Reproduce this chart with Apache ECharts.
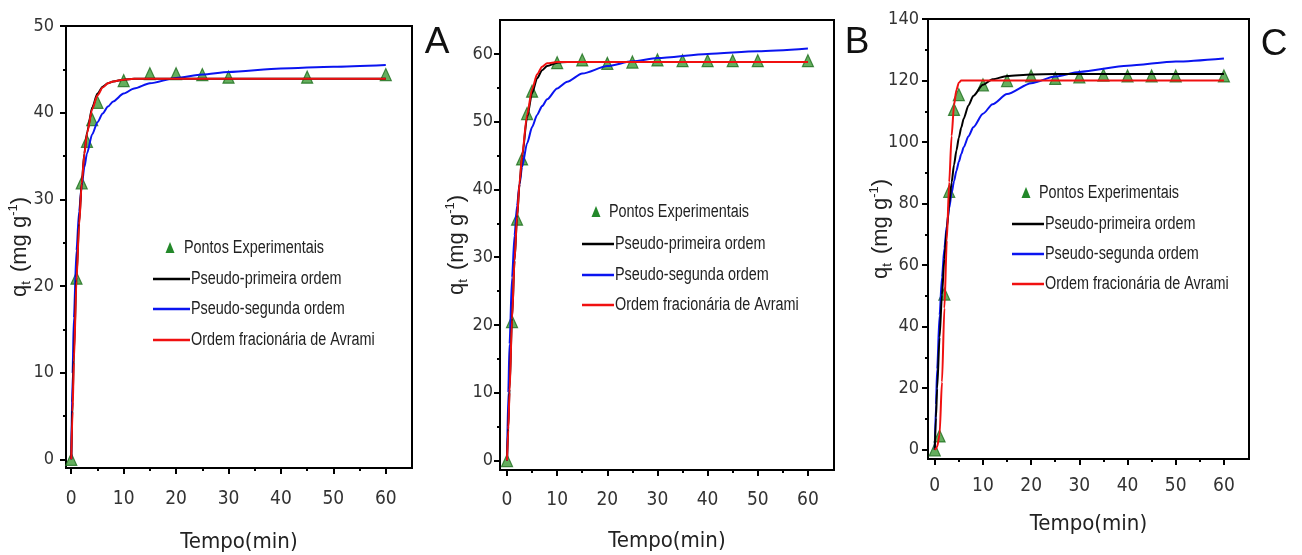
<!DOCTYPE html>
<html><head><meta charset="utf-8">
<script src="https://cdn.jsdelivr.net/npm/echarts@6/dist/echarts.min.js"></script>
<style>html,body{margin:0;padding:0;background:#fff}#c{width:1302px;height:555px}</style>
</head><body><div id="c"></div>
<script>
// ---------- DATA ----------
const seriesNames = ['Pontos Experimentais', 'Pseudo-primeira ordem', 'Pseudo-segunda ordem', 'Ordem fracionária de Avrami'];
const panelLetters = ['A', 'B', 'C'];
const xTicks = [0, 10, 20, 30, 40, 50, 60];
const xMinorTicks = [5, 15, 25, 35, 45, 55];
const yTicksA = [0, 10, 20, 30, 40, 50];
const yMinorTicksA = [5, 15, 25, 35, 45];
const yTicksB = [0, 10, 20, 30, 40, 50, 60];
const yMinorTicksB = [5, 15, 25, 35, 45, 55];
const yTicksC = [0, 20, 40, 60, 80, 100, 120, 140];
const yMinorTicksC = [10, 30, 50, 70, 90, 110, 130];

// Panel A
const tExpA = [0, 1, 2, 3, 4, 5, 10, 15, 20, 25, 30, 45, 60];
const qExpA = [0, 20.9, 31.9, 36.7, 39.2, 41.2, 43.7, 44.5, 44.5, 44.4, 44.1, 44.1, 44.4];
const tFitA = [0, 0.25, 0.5, 1, 1.5, 2, 2.5, 3, 4, 5, 6, 7, 8, 10, 12, 15, 20, 25, 30, 40, 50, 60];
const pfoA = [0, 6.6, 12.2, 21.0, 27.3, 31.9, 35.3, 37.7, 40.6, 42.2, 43.0, 43.4, 43.6, 43.8, 43.9, 43.9, 43.9, 43.9, 43.9, 43.9, 43.9, 43.9];
const psoA = [0, 9.9, 16.3, 24.1, 28.6, 31.6, 33.7, 35.3, 37.5, 38.9, 39.9, 40.7, 41.3, 42.2, 42.8, 43.4, 44.0, 44.4, 44.7, 45.1, 45.3, 45.5];
const avrA = [0, 5.5, 11.2, 20.6, 27.0, 31.8, 35.2, 37.6, 40.4, 42.0, 42.9, 43.4, 43.6, 43.8, 43.9, 43.9, 43.9, 43.9, 43.9, 43.9, 43.9, 43.9];

// Panel B
const tExpB = [0, 1, 2, 3, 4, 5, 10, 15, 20, 25, 30, 35, 40, 45, 50, 60];
const qExpB = [0, 20.5, 35.6, 44.5, 51.2, 54.5, 58.7, 59.1, 58.6, 58.8, 59.1, 59.0, 59.0, 59.0, 59.0, 59.0];
const tFitB = [0, 0.25, 0.5, 1, 1.5, 2, 2.5, 3, 4, 5, 6, 7, 8, 10, 12, 15, 20, 25, 30, 40, 50, 60];
const pfoB = [0, 5.0, 10.5, 21.0, 29.5, 35.8, 40.8, 44.8, 50.6, 54.2, 56.4, 57.6, 58.2, 58.7, 58.8, 58.8, 58.8, 58.8, 58.8, 58.8, 58.8, 58.8];
const psoB = [0, 10.0, 17.2, 27.0, 33.2, 37.6, 40.8, 43.3, 46.8, 49.2, 51.0, 52.3, 53.3, 54.9, 55.9, 57.1, 58.2, 58.9, 59.4, 60.0, 60.4, 60.8];
const avrB = [0, 4.5, 10.0, 20.8, 29.5, 36.0, 41.0, 45.0, 51.0, 54.8, 57.0, 58.1, 58.6, 58.8, 58.8, 58.8, 58.8, 58.8, 58.8, 58.8, 58.8, 58.8];

// Panel C
const tExpC = [0, 1, 2, 3, 4, 5, 10, 15, 20, 25, 30, 35, 40, 45, 50, 60];
const qExpC = [0, 4.5, 50.6, 84.0, 110.6, 115.4, 118.6, 120.0, 121.5, 120.7, 121.2, 121.8, 121.5, 121.5, 121.5, 121.5];
const tFitC = [0, 0.25, 0.5, 1, 1.5, 2, 2.5, 3, 3.5, 4, 4.5, 5, 5.5, 6, 7, 8, 10, 12, 15, 20, 25, 30, 40, 50, 60];
const pfoC = [0, 10.4, 19.9, 36.5, 50.4, 62.1, 71.8, 80.0, 86.9, 92.6, 97.3, 101.4, 104.7, 107.6, 111.9, 115.0, 118.6, 120.4, 121.5, 122.0, 122.1, 122.1, 122.1, 122.1, 122.1];
const psoC = [0, 14.6, 26.2, 43.7, 56.1, 65.5, 72.8, 78.6, 83.4, 87.3, 90.7, 93.6, 96.1, 98.3, 101.9, 104.8, 109.2, 112.3, 115.6, 119.1, 121.3, 122.8, 124.8, 126.2, 127.2];
const avrC = [0, 0.3, 1.0, 5.0, 22.0, 46.0, 68.0, 87.0, 102.0, 112.0, 117.0, 119.3, 120.0, 120.0, 120.0, 120.0, 120.0, 120.0, 120.0, 120.0, 120.0, 120.0, 120.0, 120.0, 120.0];

// ---------- LAYOUT ----------
const NARROW = "'Liberation Sans Narrow','Arial Narrow','DejaVu Sans Condensed','Liberation Sans',sans-serif";
const SANS = "'Liberation Sans',Arial,sans-serif";
const panels = [
  { grid: {left: 66, top: 26, width: 346, height: 442}, x: [-1, 65], y: [-1, 50], yTicks: yTicksA, yMinor: yMinorTicksA,
    tExp: tExpA, qExp: qExpA, tFit: tFitA, pfo: pfoA, pso: psoA, avr: avrA,
    yLabelMargin: 12, xLabelMargin: 22, yNameGap: 33, xNameGap: 63, yNamePad: 0,
    letter: [437, 43], leg: {tri: [170, 248], rows: [279, 309, 340], lx: [153, 190], tx0: 184, tx: 191} },
  { grid: {left: 500, top: 20, width: 334, height: 450}, x: [-1.4, 65.2], y: [-1.4, 65], yTicks: yTicksB, yMinor: yMinorTicksB,
    tExp: tExpB, qExp: qExpB, tFit: tFitB, pfo: pfoB, pso: psoB, avr: avrB,
    yLabelMargin: 7, xLabelMargin: 21, yNameGap: 30, xNameGap: 60, yNamePad: 0,
    letter: [857, 43], leg: {tri: [596, 212], rows: [244, 275, 305], lx: [582, 614], tx0: 609, tx: 615} },
  { grid: {left: 928, top: 19, width: 321, height: 440}, x: [-1.4, 65.2], y: [-3, 140], yTicks: yTicksC, yMinor: yMinorTicksC,
    tExp: tExpC, qExp: qExpC, tFit: tFitC, pfo: pfoC, pso: psoC, avr: avrC,
    yLabelMargin: 9, xLabelMargin: 18, yNameGap: 34, xNameGap: 54, yNamePad: 20,
    letter: [1274, 45], leg: {tri: [1026, 193], rows: [224, 254, 284], lx: [1012, 1044], tx0: 1039, tx: 1045} }
];
const lineColors = ['#000000', '#0a14f0', '#f01010'];
const green = '#23882a';

const zip = (xs, ys) => xs.map((x, i) => [x, ys[i]]);
const grids = [], xAxes = [], yAxes = [], series = [], graphics = [];

panels.forEach((p, i) => {
  grids.push(Object.assign({show: true, borderColor: '#000', borderWidth: 2, backgroundColor: 'transparent',
    containLabel: false, outerBoundsMode: 'none'}, p.grid));
  const axisLine = {onZero: false, lineStyle: {color: '#000', width: 2}};
  // major x
  xAxes.push({gridIndex: i, type: 'value', position: 'bottom', min: p.x[0], max: p.x[1], splitLine: {show: false},
    axisLine, axisTick: {customValues: xTicks, length: 6, lineStyle: {color: '#000', width: 2}},
    axisLabel: {customValues: xTicks, margin: p.xLabelMargin, color: '#333', fontSize: 19, fontFamily: NARROW},
    name: 'Tempo(min)', nameLocation: 'middle', nameGap: p.xNameGap, nameMoveOverlap: false,
    nameTextStyle: {color: '#222', fontSize: 22, fontFamily: NARROW}});
  // minor x
  xAxes.push({gridIndex: i, type: 'value', position: 'bottom', min: p.x[0], max: p.x[1], splitLine: {show: false},
    axisLine: {show: false, onZero: false}, axisTick: {customValues: xMinorTicks, length: 3, lineStyle: {color: '#000', width: 2}},
    axisLabel: {show: false}});
  // major y
  yAxes.push({gridIndex: i, type: 'value', position: 'left', min: p.y[0], max: p.y[1], splitLine: {show: false},
    axisLine, axisTick: {customValues: p.yTicks, length: 6, lineStyle: {color: '#000', width: 2}},
    axisLabel: {customValues: p.yTicks, margin: p.yLabelMargin, color: '#333', fontSize: 18, fontFamily: NARROW},
    name: '{a|q}{s|t}{a| (mg g}{p|-1}{a|)}', nameLocation: 'middle', nameGap: p.yNameGap, nameRotate: 90,
    nameMoveOverlap: false,
    nameTextStyle: {padding: [0, 0, 0, p.yNamePad], rich: {
      a: {fontSize: 22, fontFamily: SANS, color: '#222', lineHeight: 26},
      s: {fontSize: 13, fontFamily: SANS, color: '#222', verticalAlign: 'bottom', lineHeight: 26, padding: [0, 3, 0, 0]},
      p: {fontSize: 13, fontFamily: SANS, color: '#222', verticalAlign: 'top', lineHeight: 26}
    }}});
  // minor y
  yAxes.push({gridIndex: i, type: 'value', position: 'left', min: p.y[0], max: p.y[1], splitLine: {show: false},
    axisLine: {show: false, onZero: false}, axisTick: {customValues: p.yMinor, length: 3, lineStyle: {color: '#000', width: 2}},
    axisLabel: {show: false}});

  const xi = 2 * i, yi = 2 * i;
  series.push({name: seriesNames[0], type: 'scatter', xAxisIndex: xi, yAxisIndex: yi, z: 2,
    symbol: 'triangle', symbolSize: [11, 12],
    itemStyle: {color: '#3f9a36', borderColor: '#1d6e1d', borderWidth: 1.2},
    data: zip(p.tExp, p.qExp)});
  [[p.pso, 1], [p.pfo, 0], [p.avr, 2]].forEach(([vals, c]) => {
    series.push({name: seriesNames[c + 1], type: 'line', xAxisIndex: xi, yAxisIndex: yi, z: 3,
      showSymbol: false, smooth: 0.25, smoothMonotone: 'x',
      lineStyle: {color: lineColors[c], width: 2}, data: zip(p.tFit, vals)});
  });

  // panel letter
  graphics.push({type: 'text', x: p.letter[0], y: p.letter[1],
    style: {text: panelLetters[i], font: "37px " + SANS, fill: '#111', align: 'center', verticalAlign: 'middle'}});
  // legend
  const L = p.leg;
  graphics.push({type: 'polygon', shape: {points: [[L.tri[0], L.tri[1] - 6], [L.tri[0] - 4.5, L.tri[1] + 5], [L.tri[0] + 4.5, L.tri[1] + 5]]},
    style: {fill: green}});
  graphics.push({type: 'text', x: L.tx0, y: L.tri[1], scaleX: 0.8,
    style: {text: seriesNames[0], font: "18px " + SANS, fill: '#222', verticalAlign: 'middle'}});
  L.rows.forEach((ry, k) => {
    graphics.push({type: 'line', shape: {x1: L.lx[0], y1: ry, x2: L.lx[1], y2: ry},
      style: {stroke: lineColors[k], lineWidth: 2.5}});
    graphics.push({type: 'text', x: L.tx, y: ry, scaleX: 0.8,
      style: {text: seriesNames[k + 1], font: "18px " + SANS, fill: '#222', verticalAlign: 'middle'}});
  });
});

const chart = echarts.init(document.getElementById('c'), null, {renderer: 'canvas'});
chart.setOption({
  animation: false,
  backgroundColor: '#fff',
  grid: grids, xAxis: xAxes, yAxis: yAxes, series: series,
  graphic: {elements: graphics}
});
</script>
</body></html>
